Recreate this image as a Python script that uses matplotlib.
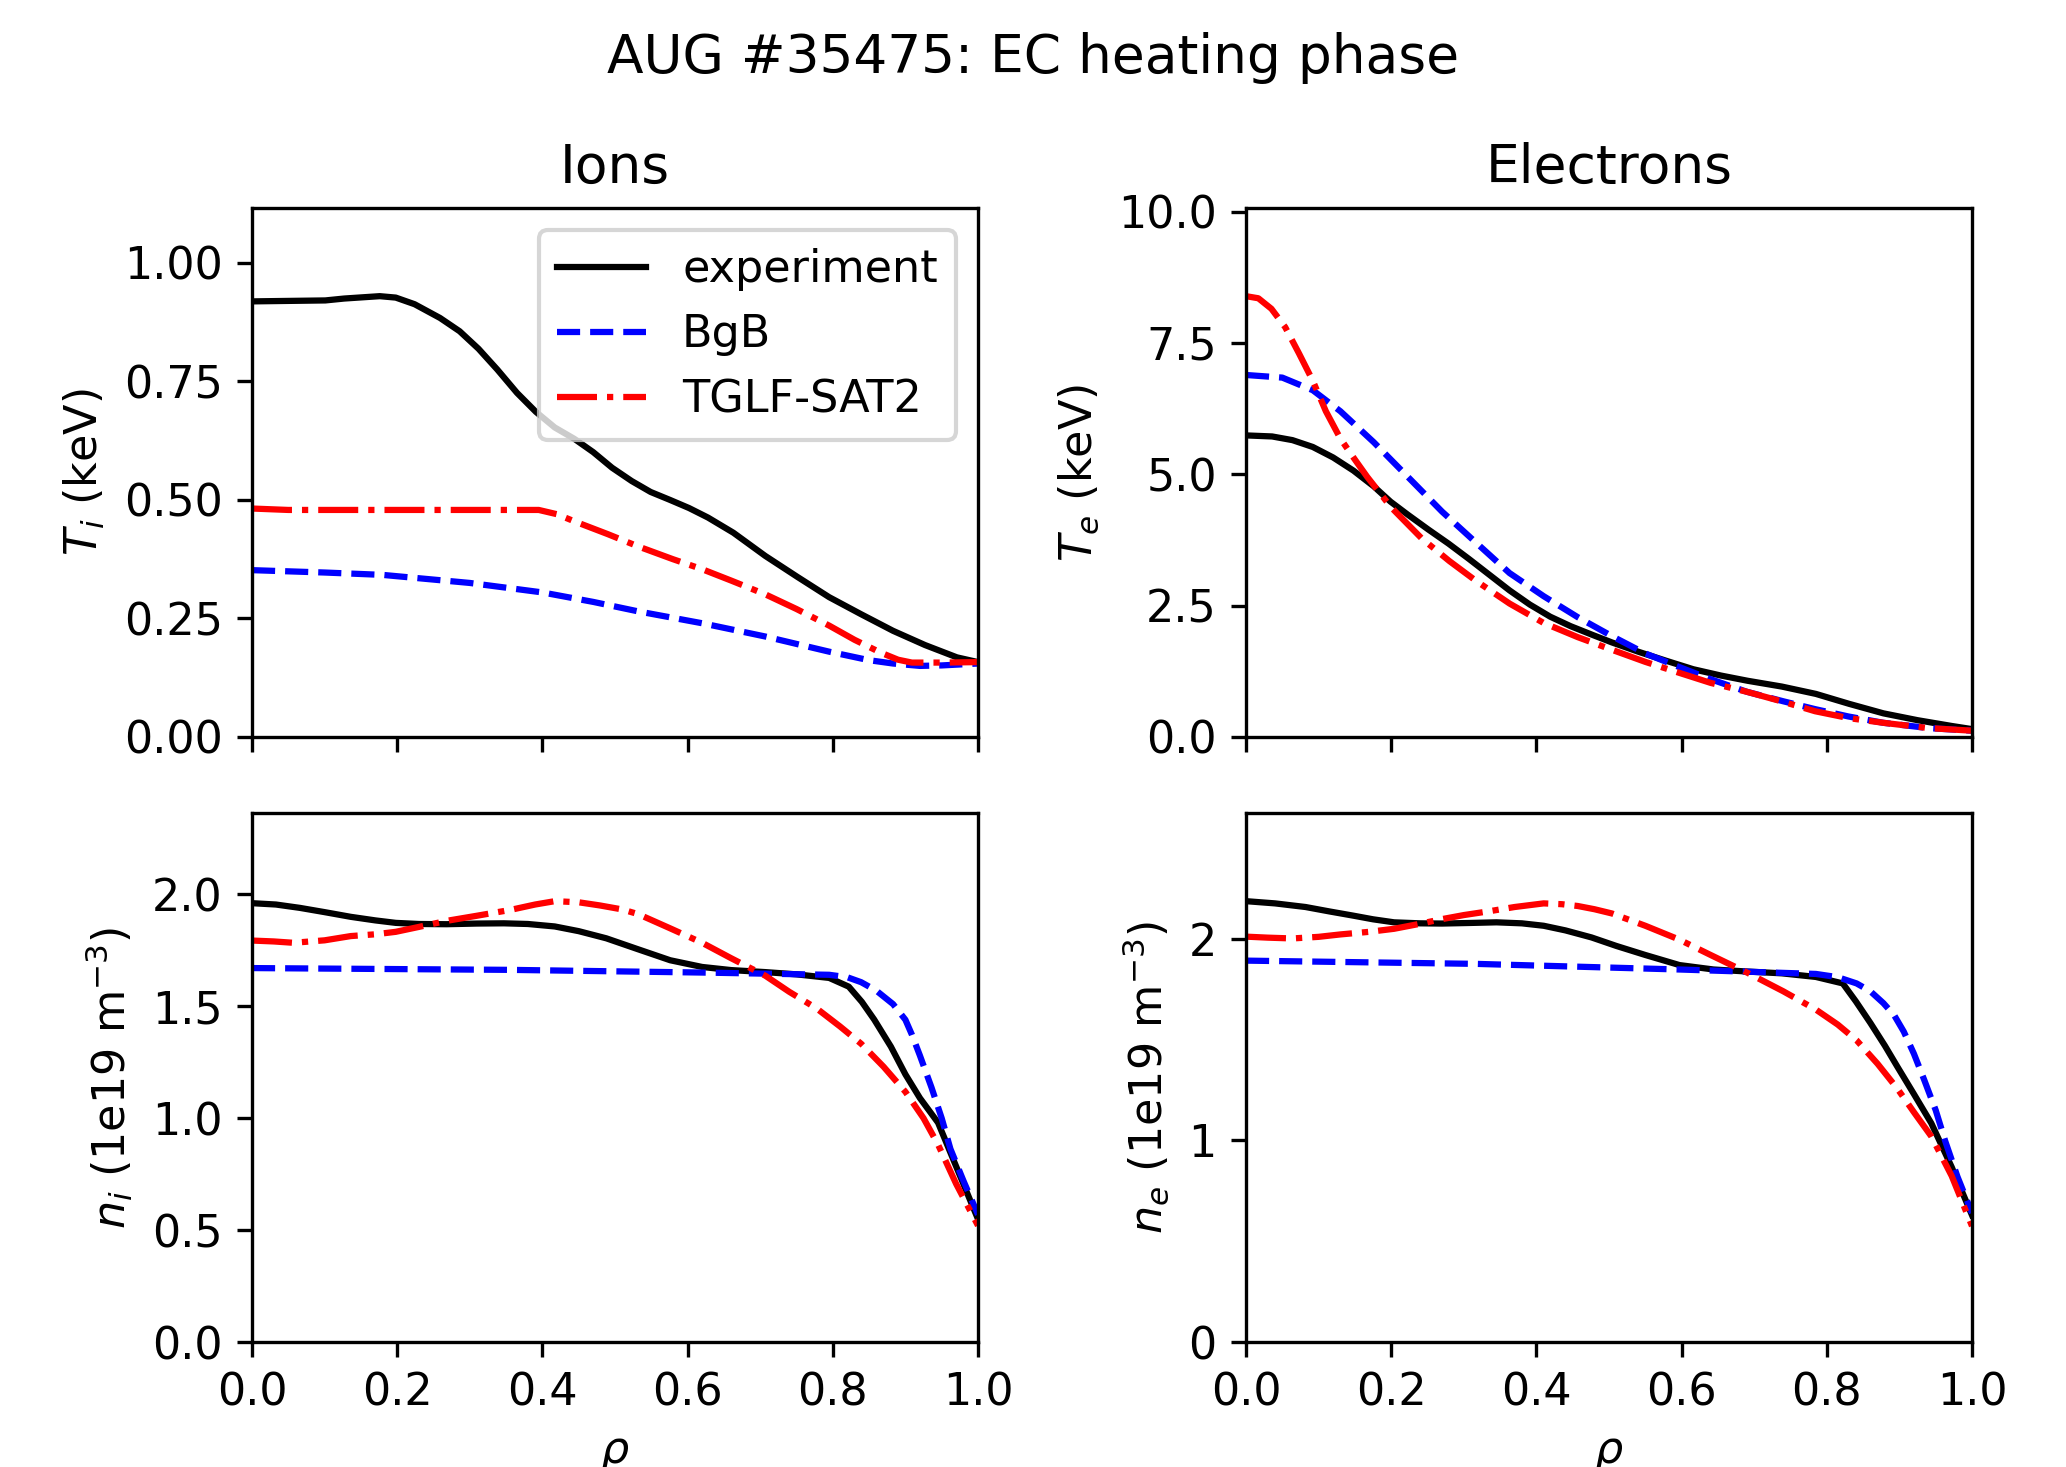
import numpy as np
import matplotlib
matplotlib.use("Agg")
import matplotlib.pyplot as plt
from matplotlib.ticker import MultipleLocator

plt.rcParams["font.size"] = 10.7

# --- ion temperature (keV) ---
rho_ti_exp = [0.0, 0.101, 0.127, 0.176, 0.198, 0.224, 0.259, 0.286, 0.312, 0.338, 0.365, 0.391, 0.417,
              0.444, 0.470, 0.496, 0.523, 0.549, 0.576, 0.602, 0.628, 0.663, 0.707, 0.751, 0.795, 0.839,
              0.883, 0.927, 0.971, 1.0]
ti_exp = [0.919, 0.921, 0.925, 0.930, 0.927, 0.913, 0.884, 0.856, 0.819, 0.775, 0.726, 0.686, 0.653,
          0.629, 0.601, 0.568, 0.540, 0.517, 0.500, 0.483, 0.463, 0.431, 0.382, 0.338, 0.295, 0.259,
          0.224, 0.194, 0.168, 0.158]
rho_ti_bgb = [0.0, 0.1, 0.18, 0.3, 0.4, 0.47, 0.532, 0.62, 0.707, 0.795, 0.85, 0.883, 0.92, 0.95, 1.0]
ti_bgb = [0.352, 0.347, 0.342, 0.325, 0.305, 0.285, 0.265, 0.240, 0.212, 0.180, 0.162, 0.155, 0.150, 0.151, 0.155]
rho_ti_tglf = [0.0, 0.05, 0.2, 0.395, 0.42, 0.444, 0.49, 0.532, 0.58, 0.62, 0.66, 0.707, 0.75, 0.795,
               0.83, 0.866, 0.89, 0.909, 0.95, 1.0]
ti_tglf = [0.482, 0.479, 0.479, 0.479, 0.470, 0.455, 0.428, 0.402, 0.375, 0.354, 0.330, 0.301, 0.270,
           0.235, 0.205, 0.178, 0.163, 0.157, 0.157, 0.158]

# --- electron temperature (keV) ---
rho_te_exp = [0.0, 0.036, 0.064, 0.092, 0.120, 0.148, 0.176, 0.199, 0.223, 0.251, 0.279, 0.307, 0.335,
              0.363, 0.391, 0.419, 0.447, 0.476, 0.504, 0.541, 0.579, 0.616, 0.654, 0.691, 0.738, 0.785,
              0.831, 0.878, 0.925, 0.972, 1.0]
te_exp = [5.74, 5.72, 5.65, 5.52, 5.32, 5.07, 4.77, 4.48, 4.23, 3.95, 3.68, 3.39, 3.09, 2.79, 2.52,
          2.29, 2.11, 1.95, 1.80, 1.62, 1.45, 1.29, 1.17, 1.07, 0.96, 0.82, 0.63, 0.45, 0.32, 0.21, 0.15]
rho_te_bgb = [0.0, 0.05, 0.092, 0.13, 0.176, 0.223, 0.27, 0.316, 0.363, 0.41, 0.457, 0.504, 0.55,
              0.597, 0.64, 0.69, 0.74, 0.784, 0.83, 0.878, 0.94, 1.0]
te_bgb = [6.89, 6.84, 6.60, 6.20, 5.61, 4.95, 4.29, 3.71, 3.12, 2.68, 2.28, 1.92, 1.59, 1.33, 1.10,
          0.86, 0.68, 0.53, 0.39, 0.27, 0.17, 0.12]
rho_te_tglf = [0.0, 0.017, 0.035, 0.054, 0.073, 0.092, 0.11, 0.13, 0.15, 0.167, 0.2, 0.242, 0.28,
               0.316, 0.363, 0.41, 0.457, 0.504, 0.55, 0.597, 0.64, 0.69, 0.74, 0.784, 0.83, 0.878,
               0.94, 1.0]
te_tglf = [8.39, 8.35, 8.15, 7.80, 7.30, 6.78, 6.20, 5.68, 5.28, 4.95, 4.37, 3.78, 3.35, 2.98, 2.54,
           2.17, 1.90, 1.66, 1.43, 1.22, 1.03, 0.86, 0.67, 0.49, 0.36, 0.27, 0.17, 0.12]

# --- ion density (1e19 m^-3) ---
rho_ni_exp = [0.0, 0.033, 0.066, 0.1, 0.136, 0.17, 0.198, 0.23, 0.268, 0.31, 0.347, 0.38, 0.417, 0.45,
              0.488, 0.53, 0.576, 0.62, 0.66, 0.707, 0.75, 0.795, 0.822, 0.84, 0.857, 0.88, 0.9, 0.92,
              0.945, 0.97, 1.0]
ni_exp = [1.961, 1.955, 1.940, 1.921, 1.900, 1.884, 1.873, 1.868, 1.867, 1.870, 1.871, 1.868, 1.857,
          1.836, 1.804, 1.757, 1.706, 1.676, 1.662, 1.653, 1.643, 1.627, 1.588, 1.520, 1.441, 1.320,
          1.196, 1.090, 0.980, 0.784, 0.549]
rho_ni_bgb = [0.0, 0.356, 0.62, 0.795, 0.82, 0.839, 0.86, 0.883, 0.9, 0.909, 0.92, 0.936, 0.95, 0.962, 0.98, 1.0]
ni_bgb = [1.671, 1.663, 1.651, 1.641, 1.630, 1.608, 1.570, 1.510, 1.440, 1.373, 1.280, 1.137, 1.000,
          0.863, 0.720, 0.569]
rho_ni_tglf = [0.0, 0.03, 0.057, 0.1, 0.136, 0.17, 0.198, 0.23, 0.268, 0.31, 0.356, 0.39, 0.417, 0.45,
               0.479, 0.51, 0.532, 0.575, 0.62, 0.66, 0.707, 0.74, 0.778, 0.81, 0.839, 0.87, 0.9, 0.925,
               0.945, 0.97, 1.0]
ni_tglf = [1.794, 1.790, 1.784, 1.795, 1.814, 1.822, 1.833, 1.855, 1.882, 1.905, 1.931, 1.955, 1.970,
           1.965, 1.951, 1.933, 1.912, 1.850, 1.784, 1.715, 1.637, 1.565, 1.490, 1.410, 1.333, 1.230,
           1.118, 1.000, 0.882, 0.706, 0.520]

# --- electron density (1e19 m^-3) ---
rho_ne_exp = [0.0, 0.04, 0.082, 0.115, 0.148, 0.175, 0.204, 0.24, 0.27, 0.31, 0.345, 0.38, 0.41, 0.44,
              0.476, 0.51, 0.55, 0.597, 0.644, 0.69, 0.738, 0.785, 0.822, 0.84, 0.86, 0.88, 0.897, 0.92,
              0.944, 0.972, 1.0]
ne_exp = [2.187, 2.176, 2.158, 2.136, 2.115, 2.097, 2.082, 2.077, 2.076, 2.079, 2.082, 2.077, 2.065,
          2.042, 2.007, 1.965, 1.920, 1.870, 1.848, 1.838, 1.829, 1.811, 1.779, 1.690, 1.583, 1.470,
          1.367, 1.230, 1.085, 0.868, 0.629]
rho_ne_bgb = [0.0, 0.316, 0.597, 0.785, 0.815, 0.841, 0.86, 0.878, 0.893, 0.906, 0.92, 0.934, 0.95, 0.963, 0.98, 1.0]
ne_bgb = [1.892, 1.876, 1.848, 1.826, 1.810, 1.779, 1.740, 1.681, 1.620, 1.540, 1.430, 1.302, 1.150,
          0.998, 0.820, 0.640]
rho_ne_tglf = [0.0, 0.03, 0.064, 0.1, 0.13, 0.17, 0.204, 0.24, 0.27, 0.3, 0.335, 0.37, 0.41, 0.435,
               0.457, 0.48, 0.504, 0.55, 0.597, 0.64, 0.69, 0.74, 0.785, 0.815, 0.841, 0.87, 0.897, 0.92,
               0.944, 0.972, 1.0]
ne_tglf = [2.011, 2.006, 2.002, 2.010, 2.022, 2.035, 2.050, 2.075, 2.098, 2.118, 2.137, 2.158, 2.176,
           2.172, 2.163, 2.147, 2.126, 2.065, 1.996, 1.920, 1.833, 1.740, 1.649, 1.575, 1.497, 1.380,
           1.258, 1.140, 1.020, 0.824, 0.575]

labels = ["experiment", "BgB", "TGLF-SAT2"]
styles = [dict(color="black", ls="-"), dict(color="blue", ls="--"), dict(color="red", ls="-.")]

panels = [
    ([(rho_ti_exp, ti_exp), (rho_ti_bgb, ti_bgb), (rho_ti_tglf, ti_tglf)], r"$T_i$ (keV)", 0.25),
    ([(rho_te_exp, te_exp), (rho_te_bgb, te_bgb), (rho_te_tglf, te_tglf)], r"$T_e$ (keV)", 2.5),
    ([(rho_ni_exp, ni_exp), (rho_ni_bgb, ni_bgb), (rho_ni_tglf, ni_tglf)], r"$n_i$ (1e19 m$^{-3}$)", 0.5),
    ([(rho_ne_exp, ne_exp), (rho_ne_bgb, ne_bgb), (rho_ne_tglf, ne_tglf)], r"$n_e$ (1e19 m$^{-3}$)", 1),
]

W, H = 2066, 1467
fig = plt.figure(figsize=(W / 300, H / 300), dpi=300)
lefts = [252, 1246]
tops = [208, 813]
aw, ah = 726, 529

axes = []
for k, (series, ylab, step) in enumerate(panels):
    r, c = divmod(k, 2)
    ax = fig.add_axes([lefts[c] / W, 1 - (tops[r] + ah) / H, aw / W, ah / H])
    ymax = 0
    for (x, y), lab, st in zip(series, labels, styles):
        ax.plot(x, y, label=lab, lw=1.5, **st)
        ymax = max(ymax, max(y))
    ax.set_xlim(0, 1)
    ax.set_ylim(0, 1.2 * ymax)
    ax.yaxis.set_major_locator(MultipleLocator(step))
    ax.xaxis.set_major_locator(MultipleLocator(0.2))
    ax.set_ylabel(ylab)
    if r == 0:
        ax.tick_params(labelbottom=False)
    else:
        ax.set_xlabel(r"$\rho$")
    axes.append(ax)

axes[0].set_title("Ions", fontsize=12.8)
axes[1].set_title("Electrons", fontsize=12.8)
axes[0].legend(loc="upper right")
fig.suptitle("AUG #35475: EC heating phase", fontsize=12.8, y=0.978)

fig.savefig("out.png", dpi=300)
